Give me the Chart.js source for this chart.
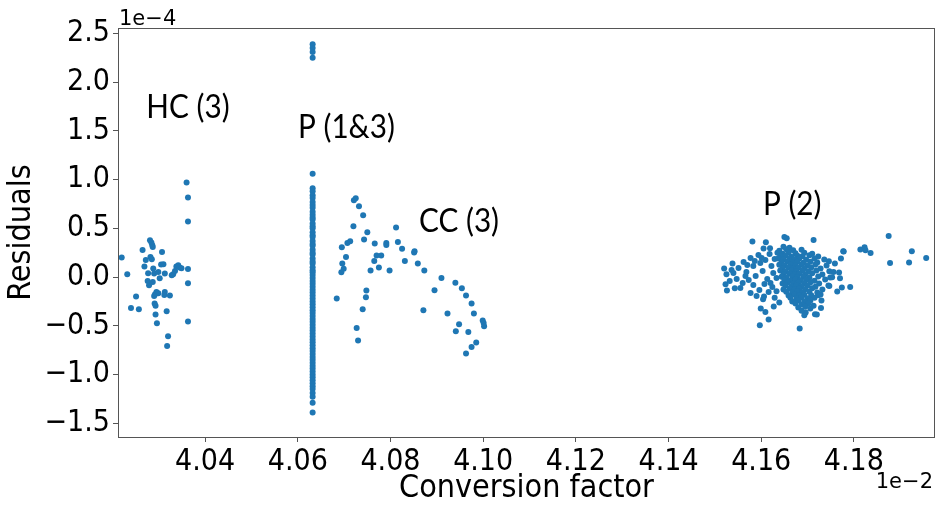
<!DOCTYPE html>
<html><head><meta charset="utf-8">
<script src="https://cdn.jsdelivr.net/npm/chart.js@4"></script>
<style>html,body{margin:0;padding:0;background:#fff}</style>
</head><body>
<canvas id="c" width="938" height="505"></canvas>
<script>
// ---- data (x in units of 1e-2, y in units of 1e-4) ----
const xTicks = [4.04, 4.06, 4.08, 4.10, 4.12, 4.14, 4.16, 4.18];
const yTicks = [-1.5, -1.0, -0.5, 0.0, 0.5, 1.0, 1.5, 2.0, 2.5];

const hcX = [4.0360,4.0363,4.0363,4.0220,4.0232,4.0265,4.0281,4.0284,4.0286,4.0287,4.0272,4.0282,4.0285,4.0269,4.0307,4.0277,4.0288,4.0290,4.0299,4.0305,4.0310,4.0313,4.0302,4.0276,4.0279,4.0287,4.0328,4.0331,4.0335,4.0338,4.0342,4.0345,4.0349,4.0363,4.0363,4.0251,4.0240,4.0257,4.0295,4.0292,4.0299,4.0290,4.0313,4.0312,4.0324,4.0291,4.0293,4.0317,4.0293,4.0296,4.0363,4.0320,4.0318];
const hcY = [0.969,0.815,0.569,0.200,0.029,0.278,0.377,0.354,0.326,0.309,0.175,0.206,0.183,0.108,0.257,0.039,0.087,0.036,0.052,0.128,0.131,0.036,-0.012,-0.040,-0.084,-0.050,0.018,0.029,0.063,0.108,0.121,0.097,0.090,0.083,-0.064,-0.200,-0.317,-0.330,-0.153,-0.176,-0.166,-0.194,-0.153,-0.184,-0.190,-0.272,-0.296,-0.351,-0.385,-0.474,-0.456,-0.607,-0.707];

const pColX = [4.0632];
const pColY = [2.39,2.35,2.31,2.25,1.06,0.91,0.88,0.84,0.81,0.77,0.74,0.71,0.67,0.64,0.61,0.59,0.55,0.52,0.50,0.46,0.43,0.41,0.37,0.34,0.32,0.28,0.25,0.23,0.19,0.16,0.14,0.10,0.07,0.05,0.02,-0.01,-0.04,-0.07,-0.10,-0.13,-0.16,-0.19,-0.22,-0.25,-0.28,-0.31,-0.34,-0.37,-0.40,-0.43,-0.46,-0.49,-0.52,-0.55,-0.58,-0.61,-0.64,-0.67,-0.70,-0.73,-0.76,-0.79,-0.82,-0.85,-0.88,-0.91,-0.94,-0.97,-1.00,-1.03,-1.06,-1.09,-1.12,-1.15,-1.19,-1.23,-1.29,-1.39];

const ccX = [4.0721,4.0725,4.0732,4.0741,4.0720,4.0750,4.0743,4.0713,4.0707,4.0695,4.0704,4.0696,4.0699,4.0694,4.0684,4.0766,4.0791,4.0791,4.0812,4.0816,4.0825,4.0852,4.0851,4.0831,4.0859,4.0873,4.0770,4.0780,4.0765,4.0775,4.0757,4.0798,4.0748,4.0747,4.0740,4.0727,4.0730,4.0910,4.0895,4.0871,4.0940,4.0954,4.0963,4.0975,4.0980,4.0923,4.0948,4.0941,4.0968,4.0999,4.1001,4.1002,4.0985,4.0975,4.0963];
const ccY = [0.788,0.808,0.726,0.635,0.522,0.459,0.384,0.367,0.350,0.306,0.206,0.138,0.086,0.049,-0.221,0.343,0.349,0.329,0.508,0.359,0.291,0.265,0.251,0.165,0.138,0.066,0.221,0.221,0.165,0.097,0.066,0.066,-0.138,-0.207,-0.331,-0.522,-0.651,-0.009,-0.136,-0.341,-0.060,-0.115,-0.189,-0.271,-0.374,-0.374,-0.484,-0.556,-0.563,-0.446,-0.471,-0.505,-0.672,-0.717,-0.784];

const p2OutX = [4.1581,4.1610,4.1650,4.1655,4.1713,4.1605,4.1619,4.1777,4.1814,4.1823,4.1825,4.1836,4.1875,4.1925,4.1956,4.1878,4.1919,4.1520,4.1538,4.1536,4.1525,4.1523,4.1526,4.1543,4.1792,4.1774,4.1764,4.1597,4.1616,4.1683,4.1599,4.1609,4.1606,4.1604,4.1629,4.1639,4.1627,4.1633,4.1693,4.1696,4.1716,4.1720,4.1706,4.1713,4.1729,4.1730,4.1723,4.1746,4.1759,4.1772,4.1778,4.1770,4.1768,4.1756,4.1749,4.1747];
const p2OutY = [0.364,0.357,0.411,0.398,0.381,0.292,0.295,0.265,0.282,0.306,0.275,0.247,0.422,0.265,0.196,0.145,0.149,0.087,0.138,0.073,0.029,-0.074,-0.138,-0.115,-0.102,-0.108,-0.149,-0.494,-0.436,-0.528,-0.323,-0.358,-0.200,-0.228,-0.214,-0.262,-0.303,-0.146,-0.392,-0.364,-0.382,-0.385,-0.323,-0.296,-0.317,-0.241,-0.187,0.162,0.138,0.190,0.262,-0.012,0.046,0.052,-0.005,-0.091];

const p2WingX = [4.1551,4.1562,4.1568,4.1577,4.1583,4.1588,4.1594,4.1598,4.1603,4.1609,4.1613,4.1618,4.1622,4.1626,4.1573,4.1560,4.1547,4.1555,4.1583,4.1596,4.1607,4.1616,4.1624,4.1590,4.1577,4.1566,4.1540,4.1532,4.1601,4.1629,4.1620,4.1633,4.1586,4.1570];
const p2WingY = [0.092,0.154,0.051,0.195,0.113,0.010,0.226,0.144,0.062,0.174,-0.021,0.236,0.113,0.041,-0.031,-0.062,-0.021,-0.113,-0.082,-0.133,-0.072,-0.154,-0.103,-0.195,-0.164,0.010,0.041,-0.041,0.195,0.185,-0.062,-0.010,0.164,0.123];

const p2CoreX = [4.1648,4.1661,
 4.1639,4.1654,4.1669,4.1687,
 4.1635,4.1646,4.1659,4.1674,4.1693,4.1710,
 4.1641,4.1652,4.1665,4.1678,4.1689,4.1704,4.1723,
 4.1637,4.1648,4.1661,4.1672,4.1682,4.1697,4.1715,4.1736,
 4.1644,4.1657,4.1667,4.1678,4.1691,4.1706,4.1721,
 4.1639,4.1650,4.1663,4.1674,4.1687,4.1700,4.1717,4.1741,
 4.1646,4.1659,4.1669,4.1680,4.1693,4.1708,4.1728,
 4.1641,4.1652,4.1665,4.1676,4.1689,4.1702,4.1719,4.1747,
 4.1648,4.1661,4.1672,4.1682,4.1695,4.1710,4.1732,
 4.1644,4.1654,4.1667,4.1678,4.1691,4.1704,4.1723,4.1753,
 4.1650,4.1663,4.1674,4.1685,4.1697,4.1715,4.1738,
 4.1646,4.1657,4.1669,4.1680,4.1693,4.1706,4.1725,
 4.1652,4.1665,4.1676,4.1687,4.1700,4.1717,4.1745,
 4.1648,4.1661,4.1672,4.1682,4.1695,4.1710,4.1732,
 4.1654,4.1667,4.1678,4.1689,4.1704,4.1721,
 4.1659,4.1672,4.1682,4.1693,4.1708,4.1728,
 4.1663,4.1676,4.1687,4.1700,4.1715,
 4.1667,4.1680,4.1693,4.1706,
 4.1674,4.1687,4.1702,
 4.1680,4.1695,
 4.1687];
const p2CoreY = [0.312,0.301,
 0.270,0.284,0.275,0.281,
 0.250,0.240,0.253,0.243,0.249,0.238,
 0.212,0.222,0.209,0.219,0.213,0.224,0.210,
 0.190,0.180,0.192,0.183,0.188,0.178,0.191,0.181,
 0.149,0.160,0.151,0.158,0.147,0.157,0.150,
 0.127,0.118,0.129,0.120,0.126,0.116,0.128,0.119,
 0.088,0.097,0.086,0.095,0.089,0.099,0.087,
 0.066,0.057,0.068,0.059,0.064,0.055,0.067,0.058,
 0.027,0.036,0.025,0.034,0.029,0.038,0.026,
 0.004,-0.006,0.006,-0.004,0.003,-0.007,0.005,-0.003,
 -0.027,-0.036,-0.025,-0.034,-0.028,-0.038,-0.026,
 -0.066,-0.057,-0.068,-0.059,-0.064,-0.055,-0.067,
 -0.088,-0.097,-0.086,-0.095,-0.090,-0.099,-0.087,
 -0.127,-0.118,-0.129,-0.120,-0.125,-0.116,-0.128,
 -0.150,-0.159,-0.148,-0.157,-0.151,-0.160,
 -0.189,-0.180,-0.191,-0.182,-0.188,-0.179,
 -0.212,-0.221,-0.210,-0.219,-0.213,
 -0.250,-0.241,-0.252,-0.243,
 -0.273,-0.282,-0.271,
 -0.312,-0.304,
 -0.345];

const labelText = ['HC (3)', 'P (1&3)', 'CC (3)', 'P (2)'];
const labelX = [4.0363, 4.0705, 4.0948, 4.1667];
const labelY = [1.632, 1.422, 0.467, 0.641];

// ---- build points ----
const points = [];
function addPts(xs, ys) {
  const n = Math.max(xs.length, ys.length);
  for (let i = 0; i < n; i++) points.push({x: xs.length === 1 ? xs[0] : xs[i], y: ys.length === 1 ? ys[0] : ys[i]});
}
addPts(hcX, hcY);
addPts(pColX, pColY);
addPts(ccX, ccY);
addPts(p2OutX, p2OutY);
addPts(p2WingX, p2WingY);
addPts(p2CoreX, p2CoreY);

const tickFont = {family: '"DejaVu Sans Condensed", "DejaVu Sans", sans-serif', size: 30};
const titleFont = {family: '"DejaVu Sans Condensed", "DejaVu Sans", sans-serif', size: 32, lineHeight: 1};

const framePlugin = {
  id: 'frame',
  afterDraw(chart) {
    const {ctx, chartArea: a} = chart;
    ctx.save();
    ctx.strokeStyle = '#555';
    ctx.lineWidth = 1;
    ctx.strokeRect(Math.round(a.left) + 0.5, Math.round(a.top) + 0.5, Math.round(a.right - a.left) - 1, Math.round(a.bottom - a.top));
    ctx.fillStyle = '#000';
    ctx.font = '21px "DejaVu Sans", sans-serif';
    ctx.textAlign = 'left';
    ctx.textBaseline = 'alphabetic';
    ctx.fillText('1e\u22124', a.left + 1, a.top - 3);
    ctx.textAlign = 'right';
    ctx.fillText('1e\u22122', a.right - 2, a.bottom + 51);
    ctx.restore();
  }
};
const labelPlugin = {
  id: 'clusterLabels',
  afterDatasetsDraw(chart) {
    const {ctx, scales: {x, y}} = chart;
    ctx.save();
    ctx.fillStyle = '#000';
    ctx.font = '33px Lato, "Open Sans", sans-serif';
    ctx.textAlign = 'center';
    ctx.textBaseline = 'alphabetic';
    labelText.forEach((t, i) => {
      ctx.save();
      ctx.translate(x.getPixelForValue(labelX[i]), y.getPixelForValue(labelY[i]));
      ctx.scale(0.9, 1);
      ctx.fillText(t, 0, 0);
      ctx.restore();
    });
    ctx.restore();
  }
};

new Chart(document.getElementById('c'), {
  type: 'scatter',
  data: {datasets: [{data: points, pointRadius: 3, pointHoverRadius: 3, pointBackgroundColor: '#1f77b4', pointBorderWidth: 0, showLine: false}]},
  options: {
    responsive: false,
    animation: false,
    devicePixelRatio: 1,
    layout: {padding: {left: 0, top: 28, right: 1, bottom: 0}},
    plugins: {legend: {display: false}, tooltip: {enabled: false}},
    scales: {
      x: {
        type: 'linear', min: 4.0212, max: 4.1975,
        afterBuildTicks: s => { s.ticks = xTicks.map(v => ({value: v})); },
        afterFit: s => { s.height = 68; },
        ticks: {font: tickFont, color: '#000', padding: 2, maxRotation: 0, autoSkip: false, callback: v => Number(v).toFixed(2)},
        grid: {display: true, drawOnChartArea: false, drawTicks: true, tickLength: 5, color: '#555'},
        border: {display: false},
        title: {display: true, text: 'Conversion factor', font: titleFont, color: '#000', padding: {top: 0, bottom: 0}}
      },
      y: {
        type: 'linear', min: -1.642, max: 2.556,
        afterBuildTicks: s => { s.ticks = yTicks.map(v => ({value: v})); },
        afterFit: s => { s.width = 118; },
        ticks: {font: tickFont, color: '#000', padding: 3, autoSkip: false, callback: v => (v < 0 ? '\u2212' : '') + Math.abs(v).toFixed(1)},
        grid: {display: true, drawOnChartArea: false, drawTicks: true, tickLength: 5, color: '#555'},
        border: {display: false},
        title: {display: true, text: 'Residuals', font: titleFont, color: '#000', padding: {top: 6, bottom: 0}}
      }
    }
  },
  plugins: [framePlugin, labelPlugin]
});
</script>
</body></html>
